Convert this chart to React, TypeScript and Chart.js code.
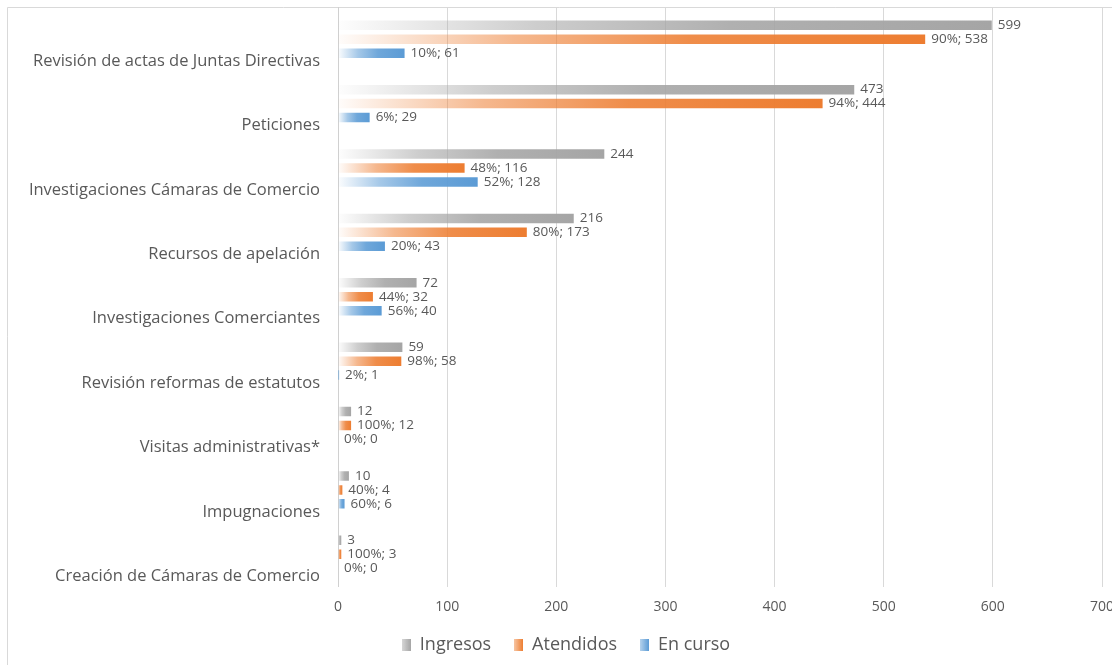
import React, { useEffect, useRef } from "react";
import { Chart, registerables } from "chart.js";

Chart.register(...registerables);

const categories = [
  "Revisión de actas de Juntas Directivas",
  "Peticiones",
  "Investigaciones Cámaras de Comercio",
  "Recursos de apelación",
  "Investigaciones Comerciantes",
  "Revisión reformas de estatutos",
  "Visitas administrativas*",
  "Impugnaciones",
  "Creación de Cámaras de Comercio",
];

const ingresos = [599, 473, 244, 216, 72, 59, 12, 10, 3];
const atendidos = [538, 444, 116, 173, 32, 58, 12, 4, 3];
const enCurso = [61, 29, 128, 43, 40, 1, 0, 6, 0];
const atendidosPct = [90, 94, 48, 80, 44, 98, 100, 40, 100];
const enCursoPct = [10, 6, 52, 20, 56, 2, 0, 60, 0];

const xMin = 0;
const xMax = 700;
const xStep = 100;

const GRAY = "#A5A5A5";
const ORANGE = "#ED7D31";
const BLUE = "#5B9BD5";
const TEXT = "#595959";
const FONT = "'Open Sans', Lato, sans-serif";

function rgba(hex: string, a: number) {
  const n = parseInt(hex.slice(1), 16);
  return `rgba(${(n >> 16) & 255}, ${(n >> 8) & 255}, ${n & 255}, ${a})`;
}

// Each bar fades in from white at the axis to its full colour at its end.
function barFill(hex: string) {
  return (ctx: any) => {
    const chart = ctx.chart;
    if (ctx.type !== "data" || !chart.chartArea) return hex;
    const xs = chart.scales.x;
    const x0 = xs.getPixelForValue(0);
    const x1 = xs.getPixelForValue(ctx.raw);
    if (x1 - x0 < 2) return hex;
    const g = chart.ctx.createLinearGradient(x0, 0, x1, 0);
    g.addColorStop(0, rgba(hex, 0.02));
    g.addColorStop(0.3, rgba(hex, 0.55));
    g.addColorStop(0.6, rgba(hex, 0.88));
    g.addColorStop(1, rgba(hex, 1));
    return g;
  };
}

function legendSwatch(hex: string) {
  const c = document.createElement("canvas");
  c.width = 9;
  c.height = 12;
  const g2 = c.getContext("2d")!;
  const g = g2.createLinearGradient(0, 0, 9, 0);
  g.addColorStop(0, rgba(hex, 0.45));
  g.addColorStop(1, rgba(hex, 1));
  g2.fillStyle = g;
  g2.fillRect(0, 0, 9, 12);
  return c;
}

const framePlugin = {
  id: "frame",
  afterLayout(chart: any) {
    // centre the legend under the framed area rather than the canvas
    if (chart.legend) chart.legend.left = 30;
  },
  beforeDraw(chart: any) {
    const { ctx, width, height } = chart;
    ctx.save();
    ctx.fillStyle = "#ffffff";
    ctx.fillRect(0, 0, width, height);
    ctx.strokeStyle = "#D9D9D9";
    ctx.lineWidth = 1;
    ctx.beginPath();
    ctx.moveTo(7.5, height);
    ctx.lineTo(7.5, 7.5);
    ctx.lineTo(width, 7.5);
    ctx.stroke();
    ctx.restore();
  },
};

const valueLabelPlugin = {
  id: "valueLabels",
  afterDatasetsDraw(chart: any) {
    const { ctx } = chart;
    ctx.save();
    ctx.font = `13.5px ${FONT}`;
    ctx.fillStyle = TEXT;
    ctx.textAlign = "left";
    ctx.textBaseline = "middle";
    chart.data.datasets.forEach((ds: any, i: number) => {
      const meta = chart.getDatasetMeta(i);
      meta.data.forEach((el: any, j: number) => {
        ctx.fillText(ds.valueText[j], el.x + 6, el.y);
      });
    });
    ctx.restore();
  },
};

export default function App() {
  const ref = useRef<HTMLCanvasElement>(null);

  useEffect(() => {
    document.body.style.margin = "0";
    const canvas = ref.current!;
    const chart = new Chart(canvas, {
      type: "bar",
      data: {
        labels: categories,
        datasets: [
          {
            label: "Ingresos",
            data: ingresos,
            backgroundColor: barFill(GRAY),
            pointStyle: legendSwatch(GRAY),
            valueText: ingresos.map((v) => `${v}`),
          } as any,
          {
            label: "Atendidos",
            data: atendidos,
            backgroundColor: barFill(ORANGE),
            pointStyle: legendSwatch(ORANGE),
            valueText: atendidos.map((v, i) => `${atendidosPct[i]}%; ${v}`),
          } as any,
          {
            label: "En curso",
            data: enCurso,
            backgroundColor: barFill(BLUE),
            pointStyle: legendSwatch(BLUE),
            valueText: enCurso.map((v, i) => `${enCursoPct[i]}%; ${v}`),
          } as any,
        ],
      },
      options: {
        indexAxis: "y",
        responsive: false,
        animation: false,
        devicePixelRatio: 1,
        categoryPercentage: 0.65,
        barPercentage: 0.68,
        layout: { padding: { left: 0, right: 10, top: 7, bottom: 1 } },
        scales: {
          x: {
            min: xMin,
            max: xMax,
            ticks: {
              stepSize: xStep,
              color: TEXT,
              font: { family: FONT, size: 14 },
              padding: 12,
            },
            grid: { color: "#D9D9D9", drawTicks: false },
            border: { display: false },
            afterFit: (s: any) => {
              s.height = 26.5;
              s.paddingLeft = 0;
              s.paddingRight = 0;
            },
          },
          y: {
            ticks: {
              color: TEXT,
              font: { family: FONT, size: 16.5 },
              padding: 18,
              labelOffset: 22,
            },
            grid: { display: false, drawTicks: false },
            border: { display: true, color: "#D0D0D0" },
            afterFit: (s: any) => {
              s.width = 338;
              s.paddingTop = 0;
              s.paddingBottom = 0;
            },
          },
        },
        plugins: {
          legend: {
            position: "bottom",
            labels: {
              usePointStyle: true,
              boxWidth: 9,
              boxHeight: 12,
              padding: 23,
              color: TEXT,
              font: { family: FONT, size: 18 },
            },
          },
          tooltip: { enabled: false },
        },
      } as any,
      plugins: [framePlugin, valueLabelPlugin],
    });
    return () => chart.destroy();
  }, []);

  return (
    <canvas
      ref={ref}
      width={1112}
      height={665}
      style={{ display: "block", width: 1112, height: 665 }}
    />
  );
}
